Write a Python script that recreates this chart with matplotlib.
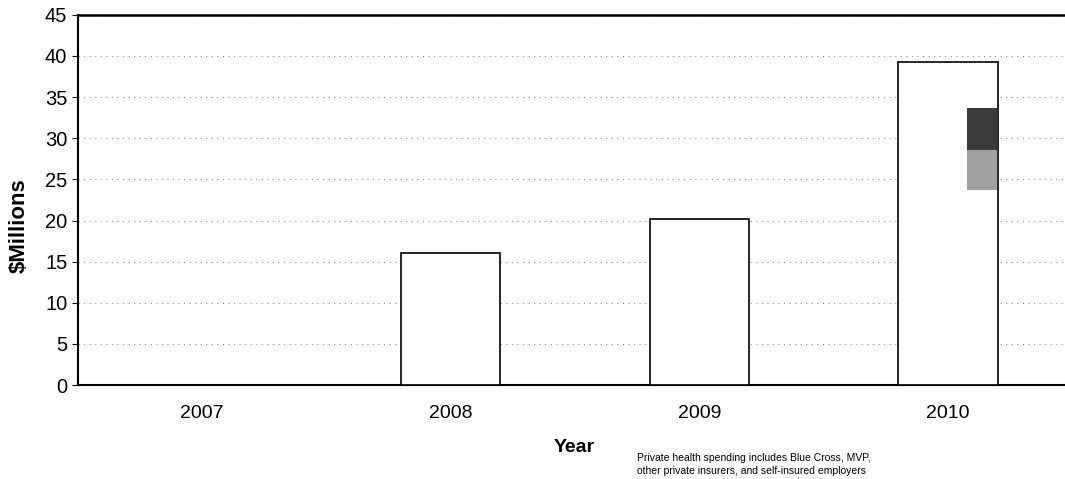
import numpy as np
import matplotlib
matplotlib.use("Agg")
import matplotlib.pyplot as plt

plt.rcParams["font.family"] = ["Liberation Sans", "DejaVu Sans"]

years = ["2007", "2008", "2009", "2010"]
spending = [0, 16.1, 20.2, 39.3]

# shaded block inside the 2010 bar (low, mid, high)
shade_year = 3
shade_low = 23.7
shade_mid = 28.6
shade_high = 33.7

note = ("Private health spending includes Blue Cross, MVP,\n"
        "other private insurers, and self-insured employers")

fig = plt.figure(figsize=(10.65, 4.79), dpi=100)
ax = fig.add_axes([0.073, 0.196, 0.927, 0.773])

x = np.arange(len(years))
ax.bar(x, spending, width=0.4, facecolor="white", edgecolor="black",
       linewidth=1.2, zorder=3)

# dark upper / lighter lower part of the shaded block
ax.bar(shade_year + 0.135, shade_high - shade_mid, bottom=shade_mid, width=0.12,
       color="#3a3a3a", zorder=4)
ax.bar(shade_year + 0.135, shade_mid - shade_low, bottom=shade_low, width=0.12,
       color="#a0a0a0", zorder=4)

ax.set_xlim(-0.5, 3.47)
ax.set_ylim(0, 45)
ax.set_yticks(np.arange(0, 46, 5))
ax.set_xticks(x)
ax.set_xticklabels(years, fontsize=14)
ax.tick_params(axis="x", length=0, pad=14)
ax.tick_params(axis="y", labelsize=14.5, length=4, direction="out")

ax.yaxis.grid(True, linestyle=(0, (1, 4)), color="#888888", linewidth=0.8)
ax.set_axisbelow(True)

ax.spines["right"].set_visible(False)
ax.spines["top"].set_linewidth(1.8)
ax.spines["left"].set_linewidth(1.5)
ax.spines["bottom"].set_linewidth(1.5)

ax.set_ylabel("$Millions", fontsize=16, fontweight="bold")
ax.yaxis.set_label_coords(-0.049, 0.43)
fig.text(0.539, 0.065, "Year", fontsize=14, fontweight="bold",
         ha="center", va="center")
fig.text(0.598, 0.030, note, fontsize=7.5, ha="left", va="center",
         linespacing=1.45)

fig.savefig("out.png", dpi=100)
